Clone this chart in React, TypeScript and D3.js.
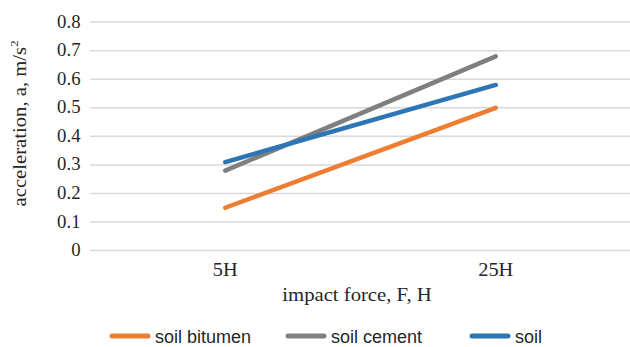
import React from "react";
import * as d3 from "d3";

const categories = ["5H", "25H"];
const seriesNames = ["soil bitumen", "soil cement", "soil"];
const soilBitumen = [0.15, 0.5];
const soilCement = [0.28, 0.68];
const soil = [0.31, 0.58];
const yTicks = [0, 0.1, 0.2, 0.3, 0.4, 0.5, 0.6, 0.7, 0.8];
const colors = ["#ED7D31", "#7F7F7F", "#2E75B6"];

const W = 630;
const H = 347;
const SERIF = "'Liberation Serif', 'Times New Roman', serif";
const SANS = "'Liberation Sans', Arial, sans-serif";

export default function App() {
  const x = d3.scaleBand<string>().domain(categories).range([90, 631]);
  const y = d3.scaleLinear().domain([0, 0.8]).range([250.6, 22.1]);
  const cx = (c: string) => (x(c) as number) + x.bandwidth() / 2;
  const line = d3
    .line<number>()
    .x((_, i) => cx(categories[i]))
    .y((d) => y(d));
  const series = [soilBitumen, soilCement, soil];
  const legendX = [112, 288, 472];
  const serif = { fontFamily: SERIF };
  const sans = { fontFamily: SANS };

  return (
    <div style={{ position: "fixed", left: 0, top: 0 }}>
      <svg width={W} height={H} style={{ display: "block", background: "#fff" }}>
        <rect width={W} height={H} fill="#fff" />
        {yTicks.map((t) => (
          <g key={t}>
            <line x1={90} x2={630} y1={y(t)} y2={y(t)} stroke="#D9D9D9" strokeWidth={1.5} />
            <text
              transform={`translate(80.5,${y(t) + 5.5}) scale(1.04,1)`}
              textAnchor="end"
              fontSize={18}
              fill="#262626"
              style={serif}
            >
              {t === 0 ? "0" : d3.format(".1f")(t)}
            </text>
          </g>
        ))}
        {series.map((s, i) => (
          <path
            key={i}
            d={line(s) || ""}
            fill="none"
            stroke={colors[i]}
            strokeWidth={4.5}
            strokeLinecap="round"
            strokeLinejoin="round"
          />
        ))}
        {categories.map((c) => (
          <text
            key={c}
            transform={`translate(${cx(c)},275.5) scale(1.13,1)`}
            textAnchor="middle"
            fontSize={18}
            fill="#262626"
            style={serif}
          >
            {c}
          </text>
        ))}
        <text
          transform="translate(357,301) scale(1.15,1)"
          textAnchor="middle"
          fontSize={18}
          fill="#262626"
          style={serif}
        >
          impact force, F, H
        </text>
        <text
          transform="translate(26,123.5) rotate(-90) scale(1.15,1)"
          textAnchor="middle"
          fontSize={18}
          fill="#262626"
          style={serif}
        >
          acceleration, a, m/s<tspan fontSize={11} dy={-8}>2</tspan>
        </text>
        {seriesNames.map((n, i) => (
          <g key={n}>
            <line
              x1={legendX[i]}
              x2={legendX[i] + 36}
              y1={336}
              y2={336}
              stroke={colors[i]}
              strokeWidth={5}
              strokeLinecap="round"
            />
            <text x={legendX[i] + 43} y={342.5} fontSize={18} fill="#262626" style={sans}>
              {n}
            </text>
          </g>
        ))}
      </svg>
    </div>
  );
}
